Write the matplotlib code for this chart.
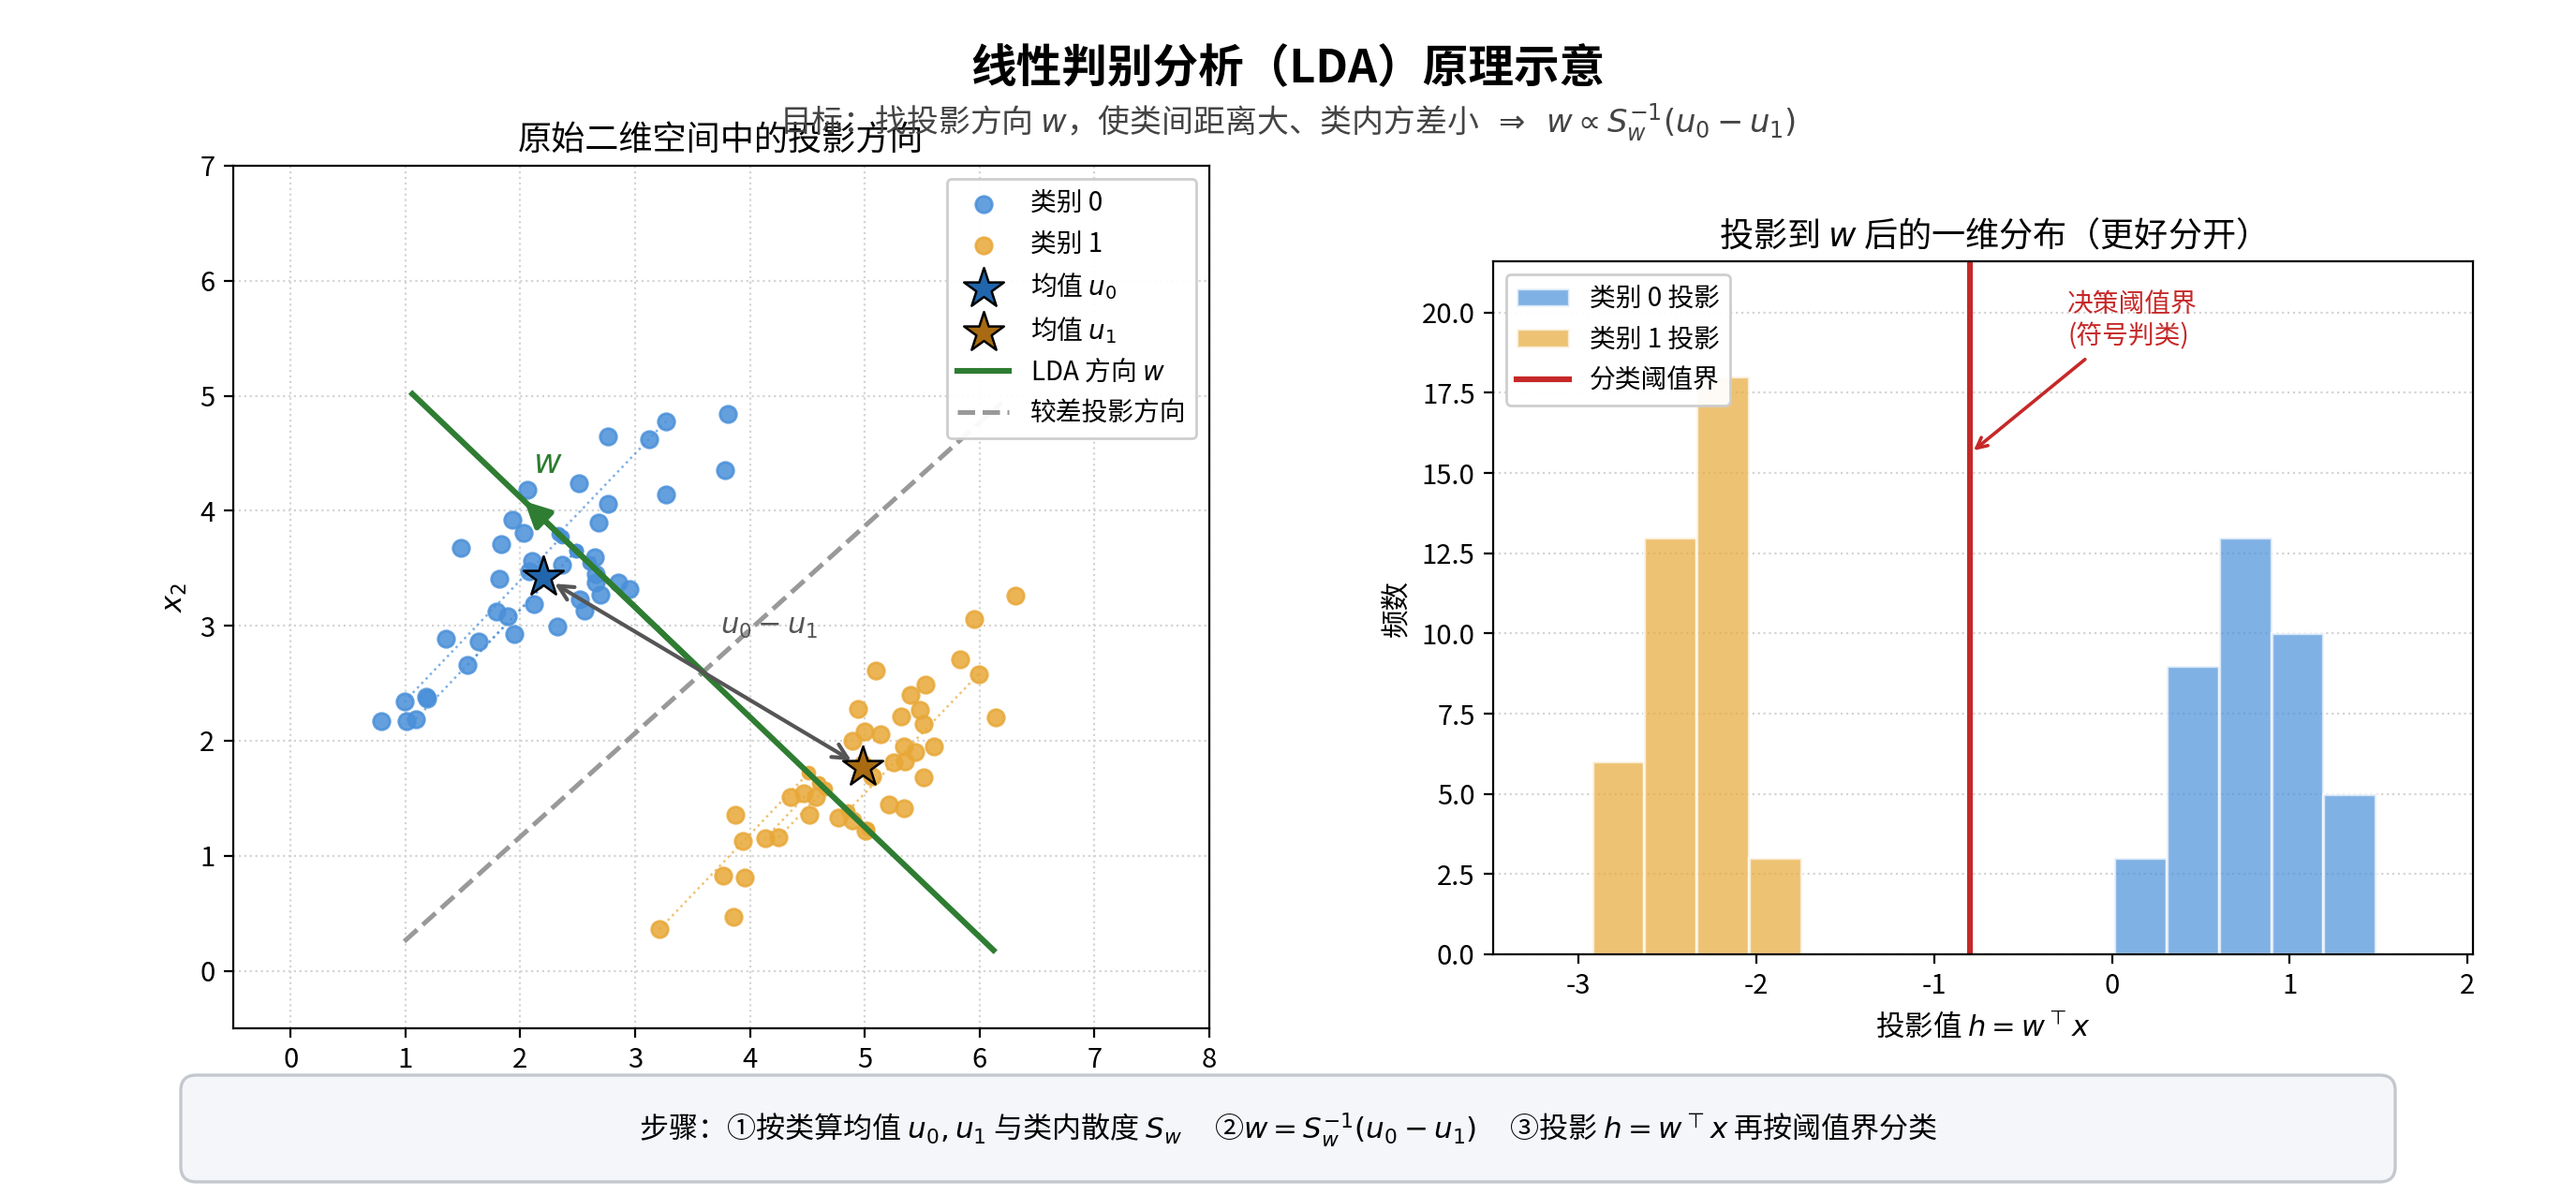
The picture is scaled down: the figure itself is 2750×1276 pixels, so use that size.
import numpy as np
import matplotlib
matplotlib.use("Agg")
import matplotlib.pyplot as plt
from matplotlib.patches import FancyBboxPatch

plt.rcParams['font.family'] = ['Noto Sans CJK SC', 'DejaVu Sans']
plt.rcParams['axes.unicode_minus'] = False

# ---- data ----
# class 0 (blue) points
x0 = [3.27, 3.81, 2.76, 3.12, 3.78, 3.27, 2.51, 2.06, 2.76, 2.68,
      1.93, 2.03, 1.83, 1.48, 2.65, 2.10, 2.36, 2.08, 2.66, 2.66,
      2.85, 2.95, 1.82, 2.70, 2.52, 2.56, 2.12, 1.79, 1.89, 1.95,
      2.32, 1.35, 1.64, 1.54, 0.99, 1.18, 1.19, 0.79, 1.01, 1.09]
y0 = [4.78, 4.84, 4.65, 4.62, 4.35, 4.14, 4.24, 4.18, 4.06, 3.90,
      3.92, 3.81, 3.71, 3.68, 3.60, 3.56, 3.53, 3.47, 3.45, 3.38,
      3.38, 3.32, 3.41, 3.27, 3.23, 3.13, 3.19, 3.12, 3.08, 2.93,
      2.99, 2.89, 2.86, 2.66, 2.34, 2.38, 2.37, 2.17, 2.17, 2.19]
# class 1 (orange) points
x1 = [6.31, 5.95, 5.10, 5.83, 5.99, 5.53, 5.40, 4.94, 5.32, 5.48,
      5.51, 6.14, 5.00, 5.14, 4.89, 5.34, 5.44, 5.60, 5.25, 5.35,
      5.06, 5.51, 4.47, 4.35, 4.57, 4.52, 4.77, 4.89, 5.01, 5.21,
      5.34, 3.87, 3.94, 4.13, 4.25, 3.77, 3.95, 3.86, 3.21, 4.98]
y1 = [3.26, 3.06, 2.61, 2.71, 2.58, 2.49, 2.40, 2.28, 2.21, 2.27,
      2.15, 2.20, 2.08, 2.06, 2.00, 1.95, 1.90, 1.95, 1.81, 1.82,
      1.69, 1.68, 1.54, 1.51, 1.51, 1.36, 1.33, 1.31, 1.22, 1.45,
      1.41, 1.36, 1.13, 1.15, 1.16, 0.83, 0.81, 0.47, 0.36, 1.80]
# points shown with their projection onto w
proj_idx0 = [0, 34, 39, 33, 14]
proj_idx1 = [38, 33, 34, 4, 28]

w_dir = [-0.723, 0.691]      # LDA direction
bad_dir = [0.743, 0.669]     # poor projection direction

# histogram of projections h = w^T x
bin_lo, bin_hi, n_bins = -2.924, 1.483, 15
counts0 = [0, 0, 0, 0, 0, 0, 0, 0, 0, 0, 3, 9, 13, 10, 5]
counts1 = [6, 13, 18, 3, 0, 0, 0, 0, 0, 0, 0, 0, 0, 0, 0]

c0 = '#4A90D9'
c1 = '#E8A838'
green = '#2E7D32'
red = '#C62828'

X0 = np.column_stack([x0, y0])
X1 = np.column_stack([x1, y1])
mu0 = X0.mean(axis=0)
mu1 = X1.mean(axis=0)
center = (mu0 + mu1) / 2
w = np.array(w_dir) / np.linalg.norm(w_dir)
wb = np.array(bad_dir) / np.linalg.norm(bad_dir)
L = 3.5

fig = plt.figure(figsize=(13.75, 6.38), dpi=200)
W, H = 2750, 1276
ax1 = fig.add_axes([249 / W, 1 - 1098 / H, 1042 / W, 921 / H])
ax2 = fig.add_axes([1594 / W, 1 - 1019 / H, 1046 / W, 740 / H])

grid_kw = dict(ls=':', color='#d4d4d4', lw=0.8)

# ---- left: original 2D space ----
ax1.scatter(x0, y0, s=40, color=c0, alpha=0.85, label='类别 0', zorder=3)
ax1.scatter(x1, y1, s=40, color=c1, alpha=0.85, label='类别 1', zorder=3)

for X, idx, col in [(X0, proj_idx0, c0), (X1, proj_idx1, c1)]:
    for i in idx:
        p = X[i]
        t = np.dot(p - center, w)
        foot = center + t * w
        ax1.plot([p[0], foot[0]], [p[1], foot[1]], ls=':', lw=0.9,
                 color=col, alpha=0.7, zorder=2)
        ax1.scatter([foot[0]], [foot[1]], s=22, color=col, alpha=0.9, zorder=4)

ax1.scatter([mu0[0]], [mu0[1]], marker='*', s=260, color='#2166AC',
            edgecolor='black', linewidth=0.9, label='均值 $u_0$', zorder=6)
ax1.scatter([mu1[0]], [mu1[1]], marker='*', s=260, color='#A86B12',
            edgecolor='black', linewidth=0.9, label='均值 $u_1$', zorder=6)

g0, g1 = center - L * w, center + L * w
ax1.plot([g0[0], g1[0]], [g0[1], g1[1]], color=green, lw=2.2,
         label='LDA 方向 $w$', zorder=5)
b0, b1 = center - L * wb, center + L * wb
ax1.plot([b0[0], b1[0]], [b0[1], b1[1]], color='#999999', lw=1.8, ls='--',
         label='较差投影方向', zorder=2)

tip = center + 2.15 * w
ax1.annotate('', xy=tip, xytext=center,
             arrowprops=dict(arrowstyle='-|>', color=green, lw=2.2,
                             mutation_scale=20, shrinkA=0, shrinkB=0), zorder=5)
ax1.text(tip[0] + 0.2, tip[1] + 0.33, '$w$', color=green, fontsize=13,
         ha='center', va='center')

ax1.annotate('', xy=mu0, xytext=mu1,
             arrowprops=dict(arrowstyle='<->', color='#555555', lw=1.5,
                             mutation_scale=14, shrinkA=5, shrinkB=5), zorder=5)
ax1.text(center[0] + 0.58, center[1] + 0.4, '$u_0 - u_1$', color='#555555',
         fontsize=11, ha='center', va='center')

ax1.set_xlim(-0.5, 8)
ax1.set_ylim(-0.5, 7)
ax1.set_xticks(range(0, 9))
ax1.set_yticks(range(0, 8))
ax1.tick_params(labelsize=10.5)
ax1.grid(True, **grid_kw)
ax1.set_axisbelow(True)
ax1.set_xlabel('$x_1$', fontsize=11)
ax1.set_ylabel('$x_2$', fontsize=11)
ax1.set_title('原始二维空间中的投影方向', fontsize=13)
ax1.legend(loc='upper right', fontsize=10, framealpha=0.95)

# ---- right: 1D projections ----
edges = np.linspace(bin_lo, bin_hi, n_bins + 1)
ax2.hist(edges[:-1], bins=edges, weights=counts0, color=c0, alpha=0.7,
         edgecolor='white', linewidth=1.2, label='类别 0 投影')
ax2.hist(edges[:-1], bins=edges, weights=counts1, color=c1, alpha=0.7,
         edgecolor='white', linewidth=1.2, label='类别 1 投影')
thr = float(np.dot(center, w))
ax2.axvline(thr, color=red, lw=2.2, label='分类阈值界')
ax2.annotate('决策阈值界\n(符号判类)', xy=(thr, 15.6), xytext=(thr + 0.55, 19.75),
             color=red, fontsize=10, ha='left', va='center',
             arrowprops=dict(arrowstyle='->', color=red, lw=1.3))
ax2.set_xlim(-3.48, 2.03)
ax2.set_ylim(0, 21.6)
ax2.tick_params(labelsize=10.5)
ax2.grid(True, axis='y', **grid_kw)
ax2.set_axisbelow(True)
ax2.set_xlabel('投影值 $h = w^\\top x$', fontsize=11)
ax2.set_ylabel('频数', fontsize=11)
ax2.set_title('投影到 $w$ 后的一维分布（更好分开）', fontsize=13)
ax2.legend(loc='upper left', fontsize=10, framealpha=0.95)

# ---- titles ----
fig.text(0.5, 1 - 74 / H, '线性判别分析（LDA）原理示意', fontsize=17.5,
         fontweight='bold', ha='center', va='center')
fig.text(0.5, 1 - 131 / H,
         '目标：找投影方向 $w$，使类间距离大、类内方差小  $\\Rightarrow$  '
         '$w \\propto S_w^{-1}(u_0 - u_1)$',
         fontsize=12.2, color='#444444', ha='center', va='center')

# ---- bottom step box ----
box = FancyBboxPatch((193 / W, 1 - 1262 / H), (2557 - 193) / W, 114 / H,
                     boxstyle='round,pad=0,rounding_size=0.006',
                     mutation_aspect=W / H, transform=fig.transFigure,
                     facecolor='#F4F6FA', edgecolor='#C4C8CE', lw=1.2, zorder=2)
fig.patches.append(box)
fig.text(0.5, 1 - 1207 / H,
         '步骤：①按类算均值 $u_0, u_1$ 与类内散度 $S_w$     '
         '②$w = S_w^{-1}(u_0 - u_1)$     ③投影 $h = w^\\top x$ 再按阈值界分类',
         fontsize=11.2, ha='center', va='center', zorder=3)

fig.savefig('out.png', dpi=200)
